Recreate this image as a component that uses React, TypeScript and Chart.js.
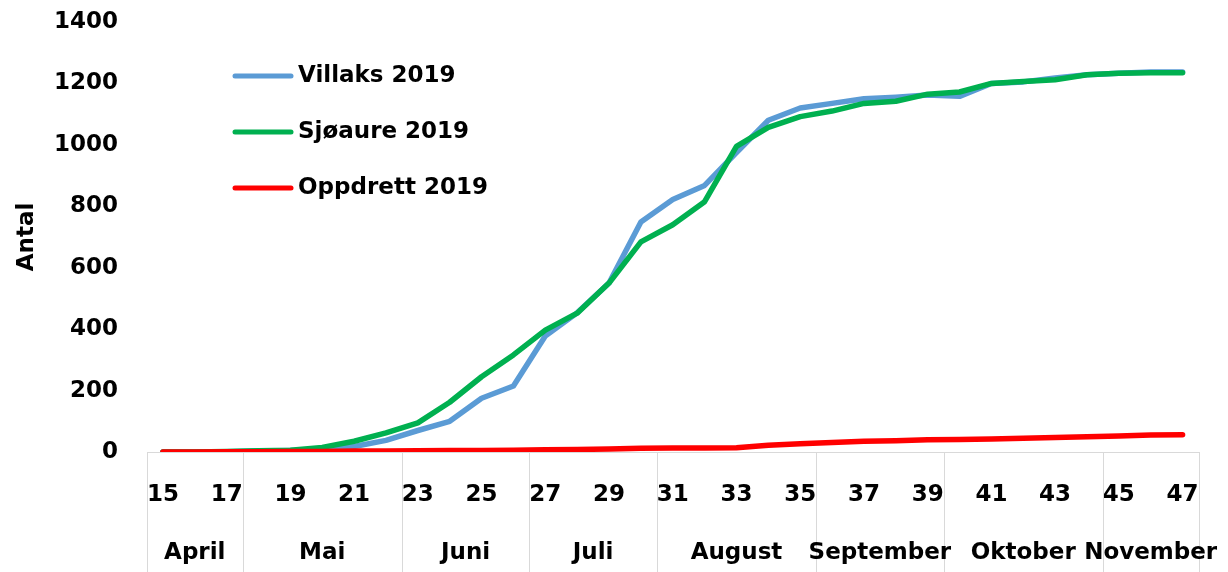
import React, { useEffect, useRef } from "react";
import { Chart, registerables } from "chart.js";

Chart.register(...registerables);

const weeks = ["15","16","17","18","19","20","21","22","23","24","25","26","27","28","29","30","31","32","33","34","35","36","37","38","39","40","41","42","43","44","45","46","47"];

const villaks = [0,0,1,3,5,8,18,38,70,100,175,215,378,453,550,749,822,868,975,1080,1120,1135,1150,1155,1162,1158,1200,1205,1218,1228,1233,1237,1237];
const sjoaure = [0,0,2,4,6,15,35,62,95,162,245,316,397,452,550,684,740,815,995,1057,1092,1110,1135,1142,1165,1172,1200,1206,1212,1228,1233,1235,1235];
const oppdrett = [0,0,1,1,2,2,3,3,4,5,5,6,7,8,10,12,13,13,14,22,27,31,35,37,40,41,42,45,47,50,52,55,56];

const months = ["April","Mai","Juni","Juli","August","September","Oktober","November"];
const monthSpans = [3,5,4,4,5,4,5,3];

const seriesNames = ["Villaks 2019","Sjøaure 2019","Oppdrett 2019"];
const seriesColors = ["#5B9BD5","#00B050","#FF0000"];

const FONT = "'DejaVu Sans', sans-serif";

const overlayPlugin = {
  id: "overlay",
  afterDraw(chart: any) {
    const ctx = chart.ctx;
    const xs = chart.scales.x;
    const area = chart.chartArea;
    const n = weeks.length;
    const cw = (xs.right - xs.left) / n;
    ctx.save();
    ctx.strokeStyle = "#D9D9D9";
    ctx.lineWidth = 1;
    let idx = 0;
    const bounds: number[] = [0];
    monthSpans.forEach((s) => { idx += s; bounds.push(idx); });
    bounds.forEach((b) => {
      const x = Math.round(xs.left + b * cw) + 0.5;
      ctx.beginPath();
      ctx.moveTo(x, area.bottom);
      ctx.lineTo(x, chart.height);
      ctx.stroke();
    });
    ctx.fillStyle = "#000";
    ctx.font = `bold 23px ${FONT}`;
    ctx.textAlign = "center";
    ctx.textBaseline = "middle";
    months.forEach((m, i) => {
      const x = xs.left + ((bounds[i] + bounds[i + 1]) / 2) * cw;
      ctx.fillText(m, x, 553);
    });
    ctx.textAlign = "left";
    chart.data.datasets.forEach((ds: any, i: number) => {
      const y = 76 + i * 56;
      ctx.strokeStyle = ds.borderColor;
      ctx.lineWidth = 5;
      ctx.lineCap = "round";
      ctx.beginPath();
      ctx.moveTo(235, y);
      ctx.lineTo(291, y);
      ctx.stroke();
      ctx.fillStyle = "#000";
      ctx.fillText(ds.label, 298, y);
    });
    ctx.restore();
  },
};

export default function App() {
  const ref = useRef<HTMLCanvasElement>(null);
  useEffect(() => {
    if (!ref.current) return;
    const data = [villaks, sjoaure, oppdrett];
    const orders = [3, 2, 1];
    const chart = new Chart(ref.current, {
      type: "line",
      data: {
        labels: weeks,
        datasets: data.map((d, i) => ({
          label: seriesNames[i],
          data: d,
          borderColor: seriesColors[i],
          backgroundColor: seriesColors[i],
          borderWidth: 5.5,
          pointRadius: 0,
          borderCapStyle: "round",
          borderJoinStyle: "round",
          tension: 0,
          order: orders[i],
        })) as any,
      },
      options: {
        animation: false,
        responsive: false,
        layout: { padding: { top: 22, right: 28, left: 0, bottom: 0 } },
        plugins: { legend: { display: false }, tooltip: { enabled: false } },
        scales: {
          x: {
            type: "category",
            offset: true,
            grid: { display: false, drawTicks: false },
            border: { display: true, color: "#D9D9D9", width: 1 },
            ticks: {
              autoSkip: false,
              maxRotation: 0,
              padding: 29,
              color: "#000",
              font: { family: FONT, size: 23, weight: "bold" },
              callback: (_v: any, i: number) => (i % 2 === 0 ? weeks[i] : ""),
            },
            afterFit: (s: any) => { s.height = 120; },
          },
          y: {
            min: 0,
            max: 1400,
            grid: { display: false, drawTicks: false },
            border: { display: false },
            ticks: {
              stepSize: 200,
              padding: 29,
              color: "#000",
              font: { family: FONT, size: 23, weight: "bold" },
              callback: (v: any) => String(v),
            },
            title: {
              display: true,
              text: "Antal",
              color: "#000",
              padding: { top: 13, bottom: 0 },
              font: { family: FONT, size: 23, weight: "bold" },
            },
            afterFit: (s: any) => { s.width = 147; s.paddingTop = 0; s.paddingBottom = 0; },
          },
        },
      },
      plugins: [overlayPlugin],
    });
    return () => chart.destroy();
  }, []);
  return (
    <div style={{ position: "fixed", left: 0, top: 0, width: 1228, height: 572, background: "#fff" }}>
      <canvas ref={ref} width={1228} height={572} style={{ display: "block" }} />
    </div>
  );
}
